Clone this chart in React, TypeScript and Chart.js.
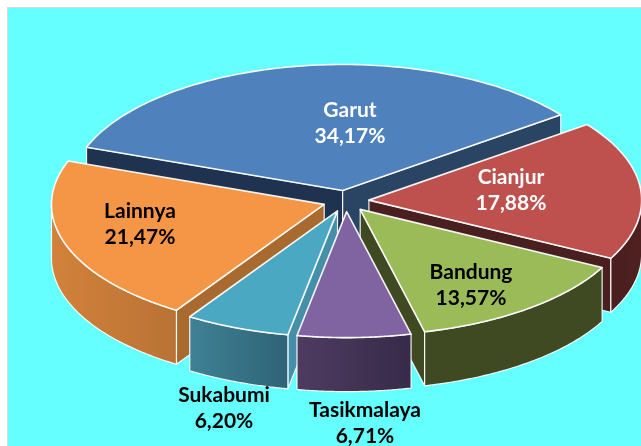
import React, { useEffect, useRef } from "react";
import { Chart, registerables } from "chart.js";

Chart.register(...registerables);

const categories = ["Garut", "Cianjur", "Bandung", "Tasikmalaya", "Sukabumi", "Lainnya"];
const shares = [34.17, 17.88, 13.57, 6.71, 6.2, 21.47];

const topColors = ["#4F81BD", "#BE504D", "#9BBB59", "#8064A2", "#4BA8C2", "#F59646"];
const wallLeftColors = ["#1F3350", "#4A1F1F", "#3F4A23", "#4E3C60", "#3F8195", "#D2823B"];
const wallRightColors = ["#2A4464", "#4F2020", "#3F4A23", "#372A4A", "#2F6376", "#B97235"];
const radialColors = [
  ["#1F3350", "#2A4464"],
  ["#4A1F1F", "#4A1F1F"],
  ["#3F4A23", "#3F4A23"],
  ["#4E3C60", "#4E3C60"],
  ["#4590A8", "#4590A8"],
  ["#A86A2F", "#A86A2F"],
];
const labelColors = ["#FFFFFF", "#FFFFFF", "#000000", "#000000", "#000000", "#000000"];
const labelCenters = [
  [350, 123],
  [511, 190],
  [471, 285],
  [365, 423],
  [224, 408],
  [140, 224],
];

const TILT = 0.462;
const DEPTH = 54;
const EXPLODE = 23;

const pie3d = {
  id: "pie3d",
  beforeDraw(chart: any) {
    const { ctx } = chart;
    ctx.save();
    ctx.fillStyle = "#FFFFFF";
    ctx.fillRect(0, 0, 641, 446);
    ctx.fillStyle = "#D9D9D9";
    ctx.fillRect(7, 7, 634, 439);
    ctx.fillStyle = "#66FFFF";
    ctx.fillRect(8, 8, 633, 438);
    ctx.restore();
  },
  beforeDatasetsDraw(chart: any) {
    const { ctx } = chart;
    const arcs: any[] = chart.getDatasetMeta(0).data;
    const order = arcs
      .map((arc, i) => ({ arc, i, mid: (arc.startAngle + arc.endAngle) / 2 }))
      .sort((a, b) => Math.sin(a.mid) - Math.sin(b.mid));

    ctx.save();
    ctx.lineJoin = "round";
    ctx.strokeStyle = "rgba(255,255,255,0.92)";

    for (const { arc, i, mid } of order) {
      const cx = arc.x + Math.cos(mid) * EXPLODE;
      const cy = arc.y + Math.sin(mid) * EXPLODE * TILT;
      const R = arc.outerRadius;
      const px = (a: number) => cx + Math.cos(a) * R;
      const py = (a: number) => cy + Math.sin(a) * R * TILT;
      const start = arc.startAngle;
      const end = arc.endAngle;

      // radial cut walls that face the viewer
      [start, end].forEach((a, side) => {
        const ex = px(a) - cx;
        const ey = py(a) - cy;
        const normalY = side === 0 ? -ex : ex;
        if (normalY <= 0) return;
        ctx.beginPath();
        ctx.moveTo(cx, cy);
        ctx.lineTo(px(a), py(a));
        ctx.lineTo(px(a), py(a) + DEPTH);
        ctx.lineTo(cx, cy + DEPTH);
        ctx.closePath();
        ctx.fillStyle = radialColors[i][side];
        ctx.fill();
        ctx.lineWidth = 1.2;
        ctx.stroke();
      });

      // outer rounded wall, the part that faces the viewer
      for (let n = -1; n <= 2; n++) {
        const a0 = Math.max(start, n * 2 * Math.PI);
        const a1 = Math.min(end, n * 2 * Math.PI + Math.PI);
        if (a1 <= a0) continue;
        const g = ctx.createLinearGradient(Math.min(px(a0), px(a1)), 0, Math.max(px(a0), px(a1)), 0);
        g.addColorStop(0, wallLeftColors[i]);
        g.addColorStop(1, wallRightColors[i]);
        ctx.beginPath();
        const steps = 60;
        for (let s = 0; s <= steps; s++) {
          const a = a0 + ((a1 - a0) * s) / steps;
          if (s === 0) ctx.moveTo(px(a), py(a));
          else ctx.lineTo(px(a), py(a));
        }
        for (let s = steps; s >= 0; s--) {
          const a = a0 + ((a1 - a0) * s) / steps;
          ctx.lineTo(px(a), py(a) + DEPTH);
        }
        ctx.closePath();
        ctx.fillStyle = g;
        ctx.fill();
        ctx.lineWidth = 1.2;
        ctx.stroke();
      }

      // top face
      ctx.beginPath();
      ctx.moveTo(cx, cy);
      const steps = 120;
      for (let s = 0; s <= steps; s++) {
        const a = start + ((end - start) * s) / steps;
        ctx.lineTo(px(a), py(a));
      }
      ctx.closePath();
      ctx.fillStyle = arc.options.backgroundColor;
      ctx.fill();
      ctx.lineWidth = 1.6;
      ctx.stroke();
    }

    // data labels
    ctx.font = "bold 21px Lato";
    ctx.textAlign = "center";
    ctx.textBaseline = "middle";
    arcs.forEach((_, i) => {
      const [x, y] = labelCenters[i];
      ctx.fillStyle = labelColors[i];
      ctx.fillText(categories[i], x, y - 13);
      ctx.fillText(shares[i].toFixed(2).replace(".", ",") + "%", x, y + 13);
    });
    ctx.restore();
    return false;
  },
};

export default function App() {
  const ref = useRef<HTMLCanvasElement>(null);
  useEffect(() => {
    const chart = new Chart(ref.current!, {
      type: "pie",
      data: {
        labels: categories,
        datasets: [
          {
            data: shares,
            backgroundColor: topColors,
            radius: 272.7,
            borderWidth: 0,
          } as any,
        ],
      },
      options: {
        animation: false,
        responsive: false,
        rotation: -69.9,
        layout: { padding: { left: 51, bottom: 44 } },
        plugins: { legend: { display: false }, tooltip: { enabled: false } },
      },
      plugins: [pie3d],
    } as any);
    return () => chart.destroy();
  }, []);
  return (
    <canvas
      ref={ref}
      width={641}
      height={446}
      style={{ position: "absolute", left: 0, top: 0, width: 641, height: 446 }}
    />
  );
}
